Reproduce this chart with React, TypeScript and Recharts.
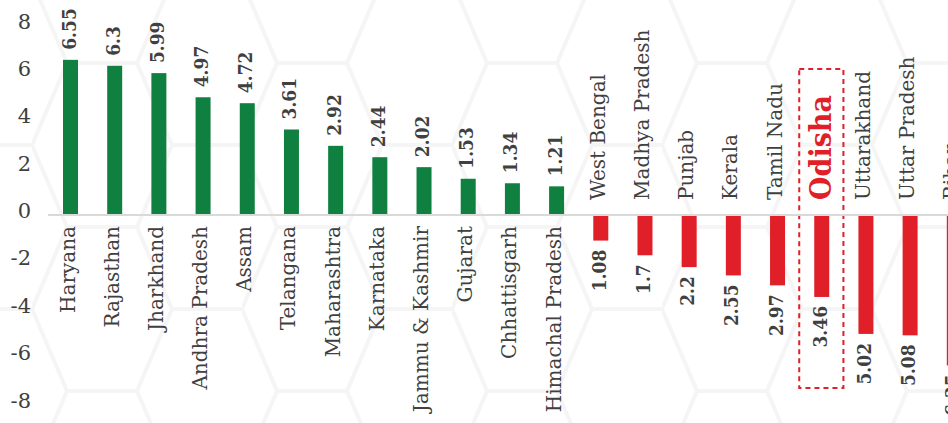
import { BarChart, Bar, XAxis, YAxis, ReferenceLine, ReferenceArea } from "recharts";

const STATES = [
  "Haryana", "Rajasthan", "Jharkhand", "Andhra Pradesh", "Assam", "Telangana",
  "Maharashtra", "Karnataka", "Jammu & Kashmir", "Gujarat", "Chhattisgarh",
  "Himachal Pradesh", "West Bengal", "Madhya Pradesh", "Punjab", "Kerala",
  "Tamil Nadu", "Odisha", "Uttarakhand", "Uttar Pradesh", "Bihar",
];

const VALUES = [
  6.55, 6.3, 5.99, 4.97, 4.72, 3.61,
  2.92, 2.44, 2.02, 1.53, 1.34,
  1.21, -1.08, -1.7, -2.2, -2.55,
  -2.97, -3.46, -5.02, -5.08, -6.35,
];

const Y_TICKS = [-8, -6, -4, -2, 0, 2, 4, 6, 8];

const HIGHLIGHT = "Odisha";
const BOX_RANGE = [-7.3, 6.16];

const GREEN = "#108040";
const RED = "#e01f28";
const TEXT = "#404040";
const SERIF = "'DejaVu Serif', serif";
const BOLD_SERIF = "'DejaVu Serif Condensed', 'DejaVu Serif', serif";

const data = STATES.map((state, i) => ({ state, value: VALUES[i] }));

const BarShape = (props: any) => {
  const { x, y, width, height, payload } = props;
  const top = Math.min(y, y + height);
  const bottom = Math.max(y, y + height);
  const cx = x + width / 2;
  const pos = payload.value >= 0;
  const zeroY = pos ? bottom : top;
  const endY = pos ? top : bottom;
  const hi = payload.state === HIGHLIGHT;
  const valY = pos ? endY - 10 : endY + 9;
  const catY = pos ? zeroY + 11 : zeroY - 15;
  const catX = cx + (hi ? 9 : 4);
  return (
    <g>
      <rect x={x} y={top} width={width} height={bottom - top} fill={pos ? GREEN : RED} />
      <text
        transform={`translate(${cx + 5},${valY}) rotate(-90)`}
        textAnchor={pos ? "start" : "end"}
        fontFamily={BOLD_SERIF}
        fontStretch="condensed"
        fontWeight="bold"
        fontSize={19}
        fill={TEXT}
      >
        {Math.abs(payload.value)}
      </text>
      <text
        transform={`translate(${catX},${catY}) rotate(-90)`}
        textAnchor={pos ? "end" : "start"}
        fontFamily={hi ? BOLD_SERIF : SERIF}
        fontStretch={hi ? "condensed" : undefined}
        fontWeight={hi ? "bold" : "normal"}
        fontSize={hi ? 30 : 20}
        fill={hi ? RED : TEXT}
      >
        {payload.state}
      </text>
    </g>
  );
};

const YTick = (props: any) => {
  const { y, payload } = props;
  return (
    <text x={31} y={y + 3} textAnchor="end" fontFamily={SERIF} fontSize={21} fill={TEXT}>
      {payload.value}
    </text>
  );
};

const HexBackground = () => {
  const s = 70;
  const h = 164;
  const d = `M${s / 2},0 L${1.5 * s},0 L${2 * s},${h / 2} L${1.5 * s},${h} M${s / 2},${h} L${1.5 * s},${h} M${s / 2},${h} L0,${h / 2} L${s / 2},0 M${2 * s},${h / 2} L${3 * s},${h / 2}`;
  return (
    <svg width={948} height={423} style={{ position: "absolute", left: 0, top: 0 }}>
      <defs>
        <pattern id="hex" x={32} y={63} width={3 * s} height={h} patternUnits="userSpaceOnUse">
          <path d={d} fill="none" stroke="#f5f5f5" strokeWidth={4} />
        </pattern>
      </defs>
      <rect width={948} height={423} fill="url(#hex)" />
    </svg>
  );
};

export default function App() {
  return (
    <div style={{ position: "fixed", left: 0, top: 0, width: 948, height: 423, overflow: "hidden", background: "#fff" }}>
      <HexBackground />
      <div style={{ position: "absolute", left: 0, top: 0 }}>
        <BarChart width={976} height={423} data={data} margin={{ top: 25.5, right: 0, bottom: 18.5, left: 0 }}>
          <XAxis dataKey="state" hide />
          <YAxis
            domain={[-8, 8]}
            ticks={Y_TICKS}
            width={48}
            axisLine={false}
            tickLine={false}
            tick={<YTick />}
          />
          <ReferenceLine y={0} stroke="#d9d9d9" strokeWidth={2} />
          <ReferenceArea
            x1={HIGHLIGHT}
            x2={HIGHLIGHT}
            y1={BOX_RANGE[0]}
            y2={BOX_RANGE[1]}
            fill="none"
            stroke={RED}
            strokeWidth={2}
            strokeDasharray="5 4"
          />
          <Bar dataKey="value" barSize={15} shape={<BarShape />} isAnimationActive={false} />
        </BarChart>
      </div>
    </div>
  );
}
